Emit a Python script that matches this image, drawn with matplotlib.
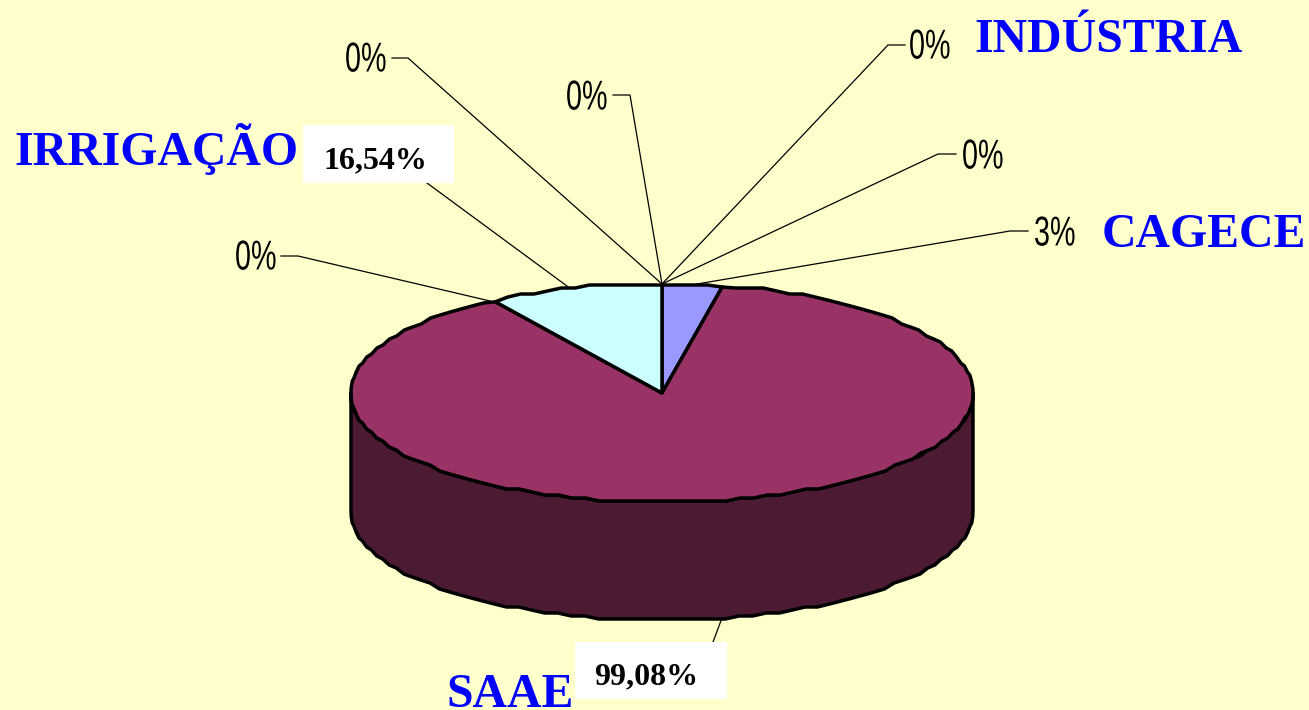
import numpy as np
import matplotlib
matplotlib.use("Agg")
import matplotlib.pyplot as plt
from matplotlib.patheffects import AbstractPathEffect
from matplotlib.transforms import Affine2D

# Data
slice_names = ["CAGECE", "SAAE", "IRRIGAÇÃO"]
slice_shares = [3.1, 87.9, 9.0]
slice_colors = ["#9999FF", "#993366", "#CCFFFF"]
side_color = "#4D1A33"
plain_labels = ["0%", "0%", "0%", "0%", "3%", "0%"]
boxed_labels = ["16,54%", "99,08%"]
category_labels = ["INDÚSTRIA", "CAGECE", "IRRIGAÇÃO", "SAAE"]

# Layout (pixel space of the 1309x710 figure)
CX, CY, RX, RY, DEPTH = 662, 393, 311, 108, 118
plain_pos = [(345, 56), (566, 94), (909, 43), (962, 153), (1034, 230), (235, 254)]
plain_lines = [
    [(662, 284), (408, 58), (392, 58)],
    [(662, 284), (630, 95), (613, 95)],
    [(662, 284), (888, 45), (905, 45)],
    [(662, 284), (938, 154), (956, 154)],
    [(697, 284), (1010, 231), (1028, 231)],
    [(490, 301), (298, 256), (281, 256)],
]
box_rects = [(303, 125, 151, 58), (575, 642, 152, 57)]
box_text = [(323, 157), (594, 673)]
box_lines = [[(427, 183), (571, 289)], [(722, 618), (713, 642)]]
cat_pos = [(974, 52), (1102, 247), (14, 165), (446, 707)]


class Condense(AbstractPathEffect):
    """Squeeze a text horizontally around its own origin (no narrow font is installed)."""

    def __init__(self, sx):
        super().__init__()
        self.sx = sx

    def draw_path(self, renderer, gc, tpath, affine, rgbFace=None):
        x0 = affine.get_matrix()[0, 2]
        squeeze = Affine2D().translate(-x0, 0).scale(self.sx, 1).translate(x0, 0)
        renderer.draw_path(gc, tpath, affine + squeeze, rgbFace)


fig = plt.figure(figsize=(13.09, 7.10), dpi=100, facecolor="#FFFFCC")
ax = fig.add_axes([0, 0, 1, 1])
ax.set_xlim(0, 1309)
ax.set_ylim(710, 0)
ax.axis("off")


def rim(t0, t1, dy=0.0):
    """Slightly stepped ellipse rim between clockwise angles (deg from top)."""
    n = max(2, int(abs(t1 - t0) / 2.6) + 1)
    t = np.radians(np.linspace(t0, t1, n))
    x = CX + RX * np.sin(t)
    off = -RY * np.cos(t)
    y = CY + np.sign(off) * np.ceil(np.abs(off) / 3) * 3
    y[0] = CY + off[0]
    y[-1] = CY + off[-1]
    return x, y + dy


edge = dict(edgecolor="black", linewidth=2.5, joinstyle="round")

# side wall (front half of the rim pushed down)
xt, yt = rim(90, 270)
xb, yb = rim(90, 270, DEPTH)
ax.fill(np.r_[xt, xb[::-1]], np.r_[yt, yb[::-1]], facecolor=side_color, zorder=2, **edge)

# top face, from the shares
bounds = np.r_[0, np.cumsum(slice_shares)] / np.sum(slice_shares) * 360
for a, b, col in zip(bounds[:-1], bounds[1:], slice_colors):
    x, y = rim(a, b)
    ax.fill(np.r_[CX, x], np.r_[CY, y], facecolor=col, zorder=3, **edge)

# leader lines
for pts in plain_lines + box_lines:
    px, py = zip(*pts)
    ax.plot(px, py, color="black", lw=0.9, zorder=1, solid_joinstyle="miter")

# percent labels
for s, (x, y) in zip(plain_labels, plain_pos):
    ax.text(x, y, s, family="Liberation Sans", fontsize=30, color="black", ha="left",
            va="center_baseline", zorder=5, path_effects=[Condense(0.69)])

for (x, y, w, h), s, (tx, ty) in zip(box_rects, boxed_labels, box_text):
    ax.add_patch(plt.Rectangle((x, y), w, h, facecolor="white", edgecolor="none", zorder=4))
    ax.text(tx, ty, s, family="Liberation Serif", weight="bold", fontsize=23, color="black",
            ha="left", va="center_baseline", zorder=5)

for s, (x, y) in zip(category_labels, cat_pos):
    ax.text(x, y, s, family="Liberation Serif", weight="bold", fontsize=34.4, color="#0000FF",
            ha="left", va="baseline", zorder=5)

fig.savefig("out.png", dpi=100, facecolor=fig.get_facecolor())
